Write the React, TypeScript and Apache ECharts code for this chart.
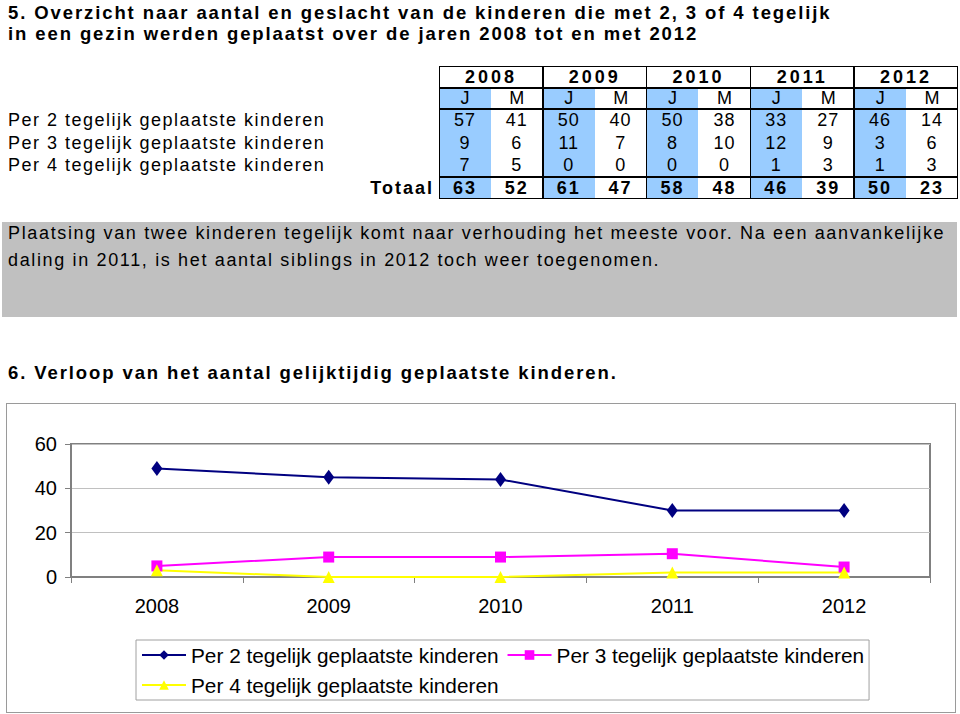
import React, { useEffect, useRef } from "react";
import * as echarts from "echarts";

// ---------- data ----------
const titleLines = [
  "5. Overzicht naar aantal en geslacht van de kinderen die met 2, 3 of 4 tegelijk",
  "in een gezin werden geplaatst over de jaren 2008 tot en met 2012",
];
const tableYears = ["2008", "2009", "2010", "2011", "2012"];
const genders = ["J", "M"];
const rowLabels = [
  "Per 2 tegelijk geplaatste kinderen",
  "Per 3 tegelijk geplaatste kinderen",
  "Per 4 tegelijk geplaatste kinderen",
];
const per2Table = [57, 41, 50, 40, 50, 38, 33, 27, 46, 14];
const per3Table = [9, 6, 11, 7, 8, 10, 12, 9, 3, 6];
const per4Table = [7, 5, 0, 0, 0, 0, 1, 3, 1, 3];
const totals = [63, 52, 61, 47, 58, 48, 46, 39, 50, 23];
const totalLabel = "Totaal";

const noteLines = [
  "Plaatsing van twee kinderen tegelijk komt naar verhouding het meeste voor. Na een aanvankelijke",
  "daling in 2011, is het aantal siblings in 2012 toch weer toegenomen.",
];
const chartHeading = "6. Verloop van het aantal gelijktijdig geplaatste kinderen.";

const chartYears = ["2008", "2009", "2010", "2011", "2012"];
const per2Series = [49, 45, 44, 30, 30];
const per3Series = [5, 9, 9, 10.5, 4.5];
const per4Series = [3, 0, 0, 2, 2];
const yMin = 0;
const yMax = 60;
const yStep = 20;

// ---------- styles ----------
const FONT = "'Liberation Sans', Arial, Helvetica, sans-serif";
const BLUE = "#99ccff";

const T = {
  left: 439,
  top: 66,
  colW: 51.9,
  yearBottom: 88,
  jmBottom: 109,
  dataRowH: 22.67,
  dataBottom: 177,
  bottom: 199,
};

function abs(style: React.CSSProperties): React.CSSProperties {
  return { position: "absolute", ...style };
}

function Table() {
  const nCols = tableYears.length * genders.length;
  const width = T.colW * nCols;
  const els: React.ReactNode[] = [];
  for (let i = 0; i < nCols; i += 2) {
    els.push(
      <div
        key={"bg" + i}
        style={abs({
          left: T.left + i * T.colW,
          top: T.yearBottom,
          width: T.colW,
          height: T.bottom - T.yearBottom,
          background: BLUE,
        })}
      />
    );
  }
  tableYears.forEach((y, i) => {
    els.push(
      <div
        key={"y" + y}
        style={abs({
          left: T.left + i * 2 * T.colW,
          top: T.top,
          width: 2 * T.colW,
          height: T.yearBottom - T.top,
          lineHeight: T.yearBottom - T.top + "px",
          textAlign: "center",
          fontWeight: "bold",
          fontSize: 18,
          letterSpacing: 3,
        })}
      >
        {y}
      </div>
    );
  });
  for (let i = 0; i < nCols; i++) {
    els.push(
      <div
        key={"g" + i}
        style={abs({
          left: T.left + i * T.colW,
          top: T.yearBottom,
          width: T.colW,
          height: T.jmBottom - T.yearBottom,
          lineHeight: T.jmBottom - T.yearBottom + "px",
          textAlign: "center",
          fontSize: 18,
        })}
      >
        {genders[i % 2]}
      </div>
    );
  }
  [per2Table, per3Table, per4Table].forEach((row, r) => {
    row.forEach((v, i) => {
      els.push(
        <div
          key={"d" + r + "_" + i}
          style={abs({
            left: T.left + i * T.colW,
            top: T.jmBottom + r * T.dataRowH,
            width: T.colW,
            height: T.dataRowH,
            lineHeight: T.dataRowH + "px",
            textAlign: "center",
            fontSize: 18,
            letterSpacing: 1,
          })}
        >
          {v}
        </div>
      );
    });
  });
  totals.forEach((v, i) => {
    els.push(
      <div
        key={"t" + i}
        style={abs({
          left: T.left + i * T.colW,
          top: T.dataBottom,
          width: T.colW,
          height: T.bottom - T.dataBottom,
          lineHeight: T.bottom - T.dataBottom + "px",
          textAlign: "center",
          fontSize: 18,
          fontWeight: "bold",
          letterSpacing: 2,
        })}
      >
        {v}
      </div>
    );
  });
  els.push(
    <div
      key="outer"
      style={abs({
        left: T.left,
        top: T.top,
        width: width,
        height: T.bottom - T.top,
        border: "1.5px solid #000",
        boxSizing: "border-box",
      })}
    />
  );
  [T.yearBottom, T.jmBottom, T.dataBottom].forEach((y, i) => {
    els.push(
      <div
        key={"h" + i}
        style={abs({ left: T.left, top: y - 0.75, width: width, height: 1.5, background: "#000" })}
      />
    );
  });
  for (let i = 1; i < tableYears.length; i++) {
    els.push(
      <div
        key={"v" + i}
        style={abs({
          left: T.left + i * 2 * T.colW - 0.75,
          top: T.top,
          width: 1.5,
          height: T.bottom - T.top,
          background: "#000",
        })}
      />
    );
  }
  rowLabels.forEach((lab, r) => {
    els.push(
      <div
        key={"rl" + r}
        style={abs({
          left: 8,
          top: T.jmBottom + r * T.dataRowH,
          height: T.dataRowH,
          lineHeight: T.dataRowH + "px",
          fontSize: 18,
          letterSpacing: 1.5,
          whiteSpace: "nowrap",
        })}
      >
        {lab}
      </div>
    );
  });
  els.push(
    <div
      key="totlab"
      style={abs({
        left: 300,
        width: 134,
        textAlign: "right",
        top: T.dataBottom,
        height: T.bottom - T.dataBottom,
        lineHeight: T.bottom - T.dataBottom + "px",
        fontSize: 18,
        fontWeight: "bold",
        letterSpacing: 2,
        whiteSpace: "nowrap",
      })}
    >
      {totalLabel}
    </div>
  );
  return <>{els}</>;
}

function Chart() {
  const ref = useRef<HTMLDivElement>(null);
  useEffect(() => {
    if (!ref.current) return;
    const chart = echarts.init(ref.current, undefined, { renderer: "svg" });
    const seriesColors = ["#000080", "#ff00ff", "#ffff00"];
    chart.setOption({
      animation: false,
      textStyle: { fontFamily: FONT },
      grid: {
        left: 64,
        right: 25,
        top: 40,
        bottom: 135,
        show: true,
        borderColor: "#808080",
        borderWidth: 2,
        backgroundColor: "#ffffff",
      },
      xAxis: {
        type: "category",
        data: chartYears,
        boundaryGap: true,
        axisLine: { lineStyle: { color: "#808080", width: 2 } },
        axisTick: { show: true, length: 6, lineStyle: { color: "#808080", width: 1 } },
        axisLabel: { color: "#000", fontSize: 20, margin: 19, fontFamily: FONT },
        splitLine: { show: false },
      },
      yAxis: {
        type: "value",
        min: yMin,
        max: yMax,
        interval: yStep,
        axisLine: { show: true, lineStyle: { color: "#808080", width: 2 } },
        axisTick: { show: true, length: 6, lineStyle: { color: "#808080", width: 1 } },
        axisLabel: { color: "#000", fontSize: 20, margin: 14, fontFamily: FONT },
        splitLine: { show: true, lineStyle: { color: "#c0c0c0", width: 1 } },
      },
      legend: {
        left: 129,
        top: 236,
        width: 735,
        orient: "horizontal",
        itemWidth: 44,
        itemHeight: 12,
        itemGap: 8,
        padding: [4, 5, 4, 5],
        borderColor: "#a0a0a0",
        borderWidth: 1,
        backgroundColor: "#ffffff",
        textStyle: { fontSize: 20.8, color: "#000", lineHeight: 22, fontFamily: FONT },
        data: rowLabels,
      },
      series: [
        {
          name: rowLabels[0],
          type: "line",
          data: per2Series,
          symbol: "diamond",
          symbolSize: [11, 15],
          itemStyle: { color: seriesColors[0] },
          lineStyle: { color: seriesColors[0], width: 2 },
        },
        {
          name: rowLabels[1],
          type: "line",
          data: per3Series,
          symbol: "rect",
          symbolSize: 11,
          itemStyle: { color: seriesColors[1] },
          lineStyle: { color: seriesColors[1], width: 2 },
        },
        {
          name: rowLabels[2],
          type: "line",
          data: per4Series,
          symbol: "triangle",
          symbolSize: 12,
          itemStyle: { color: seriesColors[2] },
          lineStyle: { color: seriesColors[2], width: 2 },
        },
      ],
    });
    return () => chart.dispose();
  }, []);
  return <div ref={ref} style={{ width: 948, height: 308 }} />;
}

export default function App() {
  return (
    <div
      style={{
        position: "absolute",
        left: 0,
        top: 0,
        width: 960,
        height: 714,
        background: "#fff",
        fontFamily: FONT,
        color: "#000",
        overflow: "hidden",
      }}
    >
      <div
        style={abs({
          left: 8,
          top: 1.5,
          fontSize: 18.5,
          fontWeight: "bold",
          letterSpacing: 1.9,
          lineHeight: "21px",
          whiteSpace: "nowrap",
        })}
      >
        {titleLines.map((l, i) => (
          <div key={i}>{l}</div>
        ))}
      </div>
      <Table />
      <div
        style={abs({
          left: 2,
          top: 222,
          width: 955,
          height: 95,
          background: "#c0c0c0",
        })}
      />
      <div
        style={abs({
          left: 8,
          top: 220,
          fontSize: 18,
          letterSpacing: 1.65,
          lineHeight: "27px",
          whiteSpace: "nowrap",
        })}
      >
        {noteLines.map((l, i) => (
          <div key={i}>{l}</div>
        ))}
      </div>
      <div
        style={abs({
          left: 8,
          top: 362,
          fontSize: 18.5,
          fontWeight: "bold",
          letterSpacing: 1.9,
          lineHeight: "22px",
          whiteSpace: "nowrap",
        })}
      >
        {chartHeading}
      </div>
      <div
        style={abs({
          left: 6,
          top: 403,
          width: 950,
          height: 310,
          border: "1px solid #9a9a9a",
          boxSizing: "border-box",
        })}
      >
        <Chart />
      </div>
    </div>
  );
}
